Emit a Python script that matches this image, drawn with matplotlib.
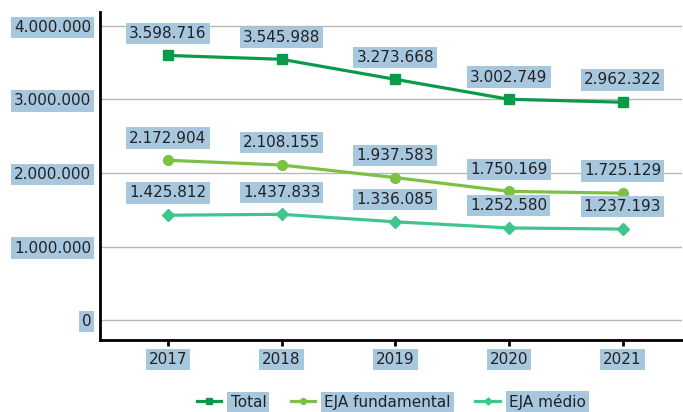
import matplotlib.pyplot as plt
from matplotlib.ticker import FuncFormatter

anos = [2017, 2018, 2019, 2020, 2021]
total = [3598716, 3545988, 3273668, 3002749, 2962322]
fundamental = [2172904, 2108155, 1937583, 1750169, 1725129]
medio = [1425812, 1437833, 1336085, 1252580, 1237193]
nomes = ["Total", "EJA fundamental", "EJA médio"]

hl = "#a7c7df"


def fmt(v, pos=None):
    return f"{int(v):,}".replace(",", ".")


fig = plt.figure(figsize=(6.83, 4.12), dpi=100)
ax = fig.add_axes([0.146, 0.175, 0.852, 0.796])

series = [
    (total, "#0b9a4a", "s", 7),
    (fundamental, "#7cc143", "o", 7),
    (medio, "#3fc58e", "D", 6),
]
for (vals, cor, mk, ms), nome in zip(series, nomes):
    ax.plot(anos, vals, color=cor, lw=2.3, marker=mk, ms=ms, label=nome, zorder=3)
    for x, y in zip(anos, vals):
        ax.annotate(fmt(y), (x, y), xytext=(0, 16), textcoords="offset points",
                    ha="center", va="center", fontsize=11, color="#222222",
                    bbox=dict(boxstyle="square,pad=0.2", fc=hl, ec="none"), zorder=4)

ax.set_xlim(2016.4, 2021.52)
ax.set_ylim(-270000, 4190000)
ax.set_yticks([0, 1000000, 2000000, 3000000, 4000000])
ax.yaxis.set_major_formatter(FuncFormatter(fmt))
ax.set_xticks(anos)
ax.grid(axis="y", color="#b8b8b8", lw=1)
ax.set_axisbelow(True)

for s in ["top", "right"]:
    ax.spines[s].set_visible(False)
ax.spines["left"].set_linewidth(2)
ax.spines["bottom"].set_linewidth(2)
ax.tick_params(axis="y", length=0, pad=6, labelsize=11, labelcolor="#222222")
ax.tick_params(axis="x", length=4, width=2, pad=5, labelsize=11, labelcolor="#222222")
for t in ax.get_yticklabels() + ax.get_xticklabels():
    t.set_bbox(dict(boxstyle="square,pad=0.2", fc=hl, ec="none"))

leg = fig.legend(loc="center", bbox_to_anchor=(0.573, 0.025), ncol=3, frameon=False,
                 fontsize=11, handlelength=1.6, handletextpad=0.6, columnspacing=1.6,
                 markerscale=0.6)
for t in leg.get_texts():
    t.set_bbox(dict(boxstyle="square,pad=0.2", fc=hl, ec="none"))
    t.set_color("#222222")

fig.savefig("out.png", dpi=100)
